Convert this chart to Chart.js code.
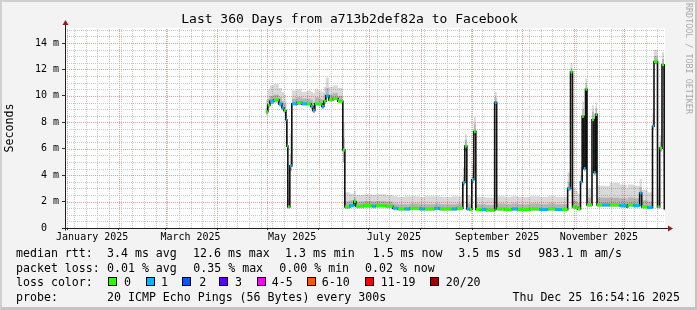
<!DOCTYPE html>
<html><head><meta charset="utf-8">
<script src="https://cdn.jsdelivr.net/npm/chart.js@4/dist/chart.umd.min.js"></script>
<style>
html,body{margin:0;padding:0;background:#f3f3f3;}
#wrap{position:relative;width:697px;height:310px;overflow:hidden;background:#f3f3f3;box-sizing:border-box;border-top:2px solid #d0d0d0;border-left:2px solid #d0d0d0;border-right:2px solid #c4c4c4;border-bottom:3px solid #c4c4c4;}
#c{position:absolute;left:-2px;top:-2px;}
.t{position:absolute;font-family:"DejaVu Sans Mono",monospace;font-size:11.6px;color:#000;white-space:pre;line-height:14px;}
.box{position:absolute;width:7px;height:7px;border:1px solid #000;}
#brand{position:absolute;left:682px;top:1px;writing-mode:vertical-rl;font-family:"DejaVu Sans Mono",monospace;font-size:8.4px;color:#a9a9a9;white-space:pre;}
</style></head>
<body>
<div id="wrap">
<canvas id="c" width="697" height="310"></canvas>
<div id="brand">RRDTOOL / TOBI OETIKER</div>
<div id="legend"></div>
</div>
<script>
// ---- data (x = days since 2025-01-01 00:00, y = milliseconds) ----
const rangeStartDay = -1.3;   // Dec 30 2024 16:54
const rangeEndDay = 358.7;    // Dec 25 2025 16:54
const dataEndDay = 358.5;
const segDay = [119.2,120.4,121.6,124.0,127.0,128.8,130.0,131.2,131.8,132.4,133.6,134.8,137.8,140.8,143.8,146.2,147.4,148.6,151.0,152.8,154.0,155.2,157.0,159.4,162.4,165.4,
  166.6,169.6,172.0,173.2,178.0,182.8,185.2,191.2,195.4,198.4,202.6,205.6,211.6,214.6,220.6,223.6,230.8,233.8,
  237.4,238.6,239.8,241.6,242.8,244.0,245.2,248.8,251.2,256.5,257.7,262.6,266.8,270.4,277.6,283.6,288.4,293.2,296.8,
  300.3,302.0,303.2,305.2,306.4,308.0,309.0,310.0,311.0,311.9,314.9,316.0,317.0,317.9,321.3,325.5,331.5,335.7,336.3,339.9,
  343.5,344.7,348.3,351.2,352.1,354.2,355.5,356.9,358.1];
const medianMs = [8.8,9.3,9.6,9.7,9.4,9.1,8.9,8.2,6.2,1.6,4.7,9.4,9.5,9.4,9.4,9.2,8.9,9.4,9.4,9.2,9.6,10.0,9.7,9.8,9.6,5.9,
  1.6,1.7,2.0,1.65,1.7,1.65,1.7,1.65,1.5,1.45,1.45,1.5,1.45,1.45,1.5,1.45,1.45,1.5,
  3.45,6.2,1.45,1.4,3.65,7.3,1.4,1.4,1.35,9.5,1.45,1.4,1.45,1.4,1.45,1.4,1.45,1.4,1.4,
  3.0,11.8,1.6,1.55,1.45,3.5,8.45,4.5,10.5,1.75,8.2,4.2,8.6,1.75,1.75,1.75,1.7,1.6,1.75,1.7,
  2.65,1.6,1.55,7.7,12.6,1.6,6.05,12.35,1.4];
const lossCount = [0,0,1,0,1,1,0,1,0,0,1,1,0,1,0,1,1,0,0,1,0,1,0,0,0,0,
  0,1,0,0,0,1,0,0,1,0,1,0,1,0,1,0,1,0,
  1,0,1,0,1,0,0,1,0,1,0,0,1,0,0,1,0,1,0,
  1,0,0,0,0,1,0,1,0,0,0,1,0,0,1,0,1,0,0,1,
  1,0,1,1,0,0,0,0,1];
const smokeLoMs = [8.6,9.1,9.4,9.5,9.2,8.9,8.7,7.9,5.6,1.5,4.3,9.3,9.3,9.3,9.3,9.0,8.7,9.3,9.3,9.0,9.4,9.8,9.6,9.7,9.5,5.0,
  1.45,1.55,1.8,1.5,1.55,1.5,1.55,1.5,1.35,1.3,1.3,1.35,1.3,1.3,1.35,1.3,1.3,1.35,
  3.2,5.8,1.3,1.3,3.4,7.0,1.3,1.3,1.25,9.3,1.3,1.3,1.3,1.3,1.3,1.3,1.3,1.3,1.3,
  2.8,11.6,1.45,1.4,1.35,3.3,8.2,4.3,10.3,1.6,8.0,4.0,8.4,1.6,1.6,1.6,1.55,1.5,1.6,1.55,
  2.4,1.5,1.45,7.5,12.4,1.5,5.8,12.1,1.3];
const smokeMidMs = [9.1,9.8,10.0,10.1,9.9,9.6,9.4,8.8,6.9,2.2,5.6,9.8,9.9,9.8,9.8,9.7,9.5,9.9,9.8,9.7,10.1,10.6,10.1,10.2,10.0,6.8,
  2.0,2.1,2.3,2.0,2.05,2.0,2.05,2.0,1.85,1.8,1.8,1.85,1.8,1.8,1.85,1.8,1.8,1.85,
  3.9,6.7,1.85,1.8,4.1,7.9,1.8,1.8,1.75,9.9,1.85,1.8,1.85,1.8,1.85,1.8,1.85,1.8,1.8,
  3.5,12.1,2.1,2.0,1.9,4.0,9.0,5.0,11.0,2.3,8.8,4.7,9.1,2.3,2.3,2.3,2.25,2.1,2.3,2.25,
  3.1,2.1,2.0,8.2,13.0,2.1,6.5,12.8,1.9];
const smokeHiMs = [9.7,10.5,10.8,10.9,10.6,10.3,10.1,9.6,8.2,3.5,7.2,10.4,10.5,10.3,10.4,10.3,10.2,10.5,10.4,10.3,10.7,11.4,10.7,10.8,10.6,8.0,
  2.7,2.6,2.8,2.5,2.55,2.5,2.55,2.5,2.4,2.35,2.4,2.4,2.35,2.4,2.4,2.35,2.4,2.4,
  4.6,7.1,2.5,2.4,4.8,8.4,2.35,2.35,2.3,10.3,2.4,2.35,2.4,2.35,2.4,2.35,2.4,2.35,2.35,
  4.2,12.5,3.0,2.8,2.6,4.6,9.6,5.6,11.3,3.0,9.3,5.2,9.5,3.2,3.2,3.4,3.3,3.0,3.3,3.2,
  3.7,2.9,2.7,8.7,13.5,3.0,7.0,13.3,2.6];

const monthStartDays = [0,31,59,90,120,151,181,212,243,273,304,334];
const firstSundayDay = 4;     // Sun Jan 5 2025
const xLabelDays = [15,74,135,196,258,319];
const xLabels = ['January 2025','March 2025','May 2025','July 2025','September 2025','November 2025'];
const yMajorValues = [0,2,4,6,8,10,12,14];
const yLabels = ['0  ','2 m','4 m','6 m','8 m','10 m','12 m','14 m'];
const yMinorStep = 0.5;
const yMax = 15.14;

const lossLabels = ['0','1','2','3','4-5','6-10','11-19','20/20'];
const lossColors = ['#26ff00','#00b8ff','#0059ff','#5e00ff','#ff00ff','#ff5500','#ff0000','#a00000'];
const medianStats = ['3.4 ms avg','12.6 ms max','1.3 ms min','1.5 ms now','3.5 ms sd','983.1 m am/s'];
const lossStats = ['0.01 % avg','0.35 % max','0.00 % min','0.02 % now'];
const probeText = '20 ICMP Echo Pings (56 Bytes) every 300s';
const stampText = 'Thu Dec 25 16:54:16 2025';
const titleText = 'Last 360 Days from a713b2def82a to Facebook';

// ---- build step points ----
function steps(vals){
  const pts=[];
  for(let i=0;i<segDay.length;i++){
    const x0=segDay[i], x1=(i+1<segDay.length)?segDay[i+1]:dataEndDay;
    pts.push({x:x0,y:vals[i]},{x:x1,y:vals[i]});
  }
  return pts;
}
function lossColor(n){
  if(n<=0) return lossColors[0];
  if(n===1) return lossColors[1];
  if(n===2) return lossColors[2];
  if(n===3) return lossColors[3];
  if(n<=5) return lossColors[4];
  if(n<=10) return lossColors[5];
  if(n<=19) return lossColors[6];
  return lossColors[7];
}

// ---- tick positions ----
const xMinor=[]; for(let d=firstSundayDay; d<=rangeEndDay; d+=7){ if(!monthStartDays.includes(d)) xMinor.push(d); }
const yMinor=[]; for(let v=yMinorStep; v<=yMax; v+=yMinorStep){ if(!yMajorValues.includes(v)) yMinor.push(v); }
const xTickDefs = [];
monthStartDays.forEach(d=>xTickDefs.push({value:d,kind:'major',label:''}));
xLabelDays.forEach((d,i)=>xTickDefs.push({value:d,kind:'label',label:xLabels[i]}));
xTickDefs.sort((a,b)=>a.value-b.value);
const yTickDefs = yMajorValues.map((v,i)=>({value:v,kind:'major',label:yLabels[i]}));

const MAJ='#f09a9a', MIN='#c8c8c8', NONE='rgba(0,0,0,0)';
function tickCol(ctx){ const t=ctx.tick; if(!t) return NONE; return t.kind==='major'?'#333':NONE; }

const rrdPlugin = {
  id:'rrd',
  beforeDraw(chart){
    const {ctx,chartArea:a}=chart;
    ctx.save(); ctx.fillStyle='#ffffff'; ctx.fillRect(a.left,a.top,a.right-a.left,a.bottom-a.top); ctx.restore();
  },
  beforeDatasetsDraw(chart){
    const {ctx,chartArea:a,scales}=chart;
    const xs=scales.x, ys=scales.y;
    ctx.save();
    ctx.lineWidth=1; ctx.setLineDash([1,1]);
    const vline=(v,col)=>{const p=Math.round(xs.getPixelForValue(v))+0.5; if(p<a.left||p>a.right) return; ctx.strokeStyle=col; ctx.beginPath(); ctx.moveTo(p,a.bottom); ctx.lineTo(p,a.top); ctx.stroke();};
    const hline=(v,col)=>{const p=Math.round(ys.getPixelForValue(v))+0.5; if(p<a.top||p>a.bottom) return; ctx.strokeStyle=col; ctx.beginPath(); ctx.moveTo(a.left,p); ctx.lineTo(a.right,p); ctx.stroke();};
    xMinor.forEach(v=>vline(v,MIN));
    yMinor.forEach(v=>hline(v,MIN));
    monthStartDays.forEach(v=>vline(v,MAJ));
    yMajorValues.forEach(v=>{ if(v>0) hline(v,MAJ); });
    ctx.restore();
  },
  afterDraw(chart){
    const {ctx,chartArea:a}=chart;
    ctx.save();
    ctx.strokeStyle='#202020'; ctx.lineWidth=1;
    const ax=Math.round(a.left)+0.5, ay=Math.round(a.bottom)+0.5;
    ctx.beginPath(); ctx.moveTo(ax, ay+2); ctx.lineTo(ax, a.top-4); ctx.stroke();
    ctx.beginPath(); ctx.moveTo(ax-3, ay); ctx.lineTo(a.right+4, ay); ctx.stroke();
    ctx.fillStyle='#9b1c1c';
    ctx.beginPath(); ctx.moveTo(ax-3,a.top-3); ctx.lineTo(ax+3,a.top-3); ctx.lineTo(ax,a.top-8); ctx.closePath(); ctx.fill();
    ctx.beginPath(); ctx.moveTo(a.right+3,ay-3); ctx.lineTo(a.right+3,ay+3); ctx.lineTo(a.right+8,ay); ctx.closePath(); ctx.fill();
    ctx.restore();
  }
};

const mono='"DejaVu Sans Mono", monospace';
new Chart(document.getElementById('c'), {
  type:'line',
  data:{datasets:[
    {label:'loss', data:steps(medianMs), borderWidth:3, pointRadius:0, fill:false, borderCapStyle:'butt',
      segment:{borderColor:c=> (c.p0DataIndex%2===0) ? lossColor(lossCount[c.p0DataIndex>>1]) : NONE}},
    {label:'median', data:steps(medianMs), borderColor:'#111', borderWidth:1.6, pointRadius:0, fill:false},
    {label:'mid', data:steps(smokeMidMs), borderWidth:0, pointRadius:0, fill:4, backgroundColor:'rgba(0,0,0,0.17)'},
    {label:'hi', data:steps(smokeHiMs), borderWidth:0, pointRadius:0, fill:4, backgroundColor:'rgba(0,0,0,0.15)'},
    {label:'lo', data:steps(smokeLoMs), borderWidth:0, pointRadius:0, fill:false}
  ]},
  options:{
    responsive:false, animation:false, devicePixelRatio:1,
    layout:{padding:{left:2,top:0,right:0,bottom:0}},
    plugins:{
      legend:{display:false}, tooltip:{enabled:false},
      title:{display:true, text:titleText, color:'#000', font:{family:mono,size:13,weight:'normal'}, padding:{top:12.2,bottom:0.2}}
    },
    scales:{
      x:{type:'linear', min:rangeStartDay, max:rangeEndDay,
        afterBuildTicks:s=>{s.ticks=xTickDefs.map(t=>({...t}));},
        afterFit:s=>{s.height=82;},
        ticks:{autoSkip:false,maxRotation:0,minRotation:0,color:'#000',padding:1,font:{family:mono,size:10},
          callback:(v,i,ticks)=>ticks[i].label},
        grid:{color:NONE, tickColor:tickCol, tickLength:2, lineWidth:1},
        border:{display:false}
      },
      y:{type:'linear', min:0, max:yMax,
        afterBuildTicks:s=>{s.ticks=yTickDefs.map(t=>({...t}));},
        afterFit:s=>{s.width=63;},
        title:{display:true,text:'Seconds',color:'#000',font:{family:mono,size:11.6},padding:{top:1,bottom:0}},
        ticks:{autoSkip:false,color:'#000',padding:3,font:{family:mono,size:10},
          callback:(v,i,ticks)=>ticks[i].label},
        grid:{color:NONE, tickColor:tickCol, tickLength:3, lineWidth:1},
        border:{display:false}
      },
      r2:{type:'linear', position:'right', display:true, min:0, max:1,
        afterFit:s=>{s.width=32;},
        ticks:{display:false}, grid:{display:false, drawOnChartArea:false}, border:{display:false}}
    }
  },
  plugins:[rrdPlugin]
});

// ---- text legend (HTML) ----
const L=document.getElementById('legend');
function txt(s,x,y){const d=document.createElement('div');d.className='t';d.textContent=s;d.style.left=(x-2)+'px';d.style.top=(y-2)+'px';L.appendChild(d);return d;}
const rowY=[246,261,275,290];
txt('median rtt:',16,rowY[0]);
[107,193,285,372.7,458.3,538.3].forEach((x,i)=>txt(medianStats[i],x,rowY[0]));
txt('packet loss:',16,rowY[1]);
[107,193.3,279.3,365].forEach((x,i)=>txt(lossStats[i],x,rowY[1]));
txt('loss color:',16,rowY[2]);
const boxX=[108,145.7,182.3,219.3,256.7,306.7,365,430];
const labX=[124,161,199.3,235,271.7,321.7,380.7,445.7];
lossLabels.forEach((s,i)=>{
  const b=document.createElement('div');b.className='box';b.style.left=(boxX[i]-2)+'px';b.style.top=(277-2)+'px';b.style.background=lossColors[i];L.appendChild(b);
  txt(s,labX[i],rowY[2]);
});
txt('probe:',16,rowY[3]);
txt(probeText,107,rowY[3]);
const st=txt(stampText,0,rowY[3]); st.style.left='auto'; st.style.right=(697-680-2)+'px';
</script>
</body></html>
